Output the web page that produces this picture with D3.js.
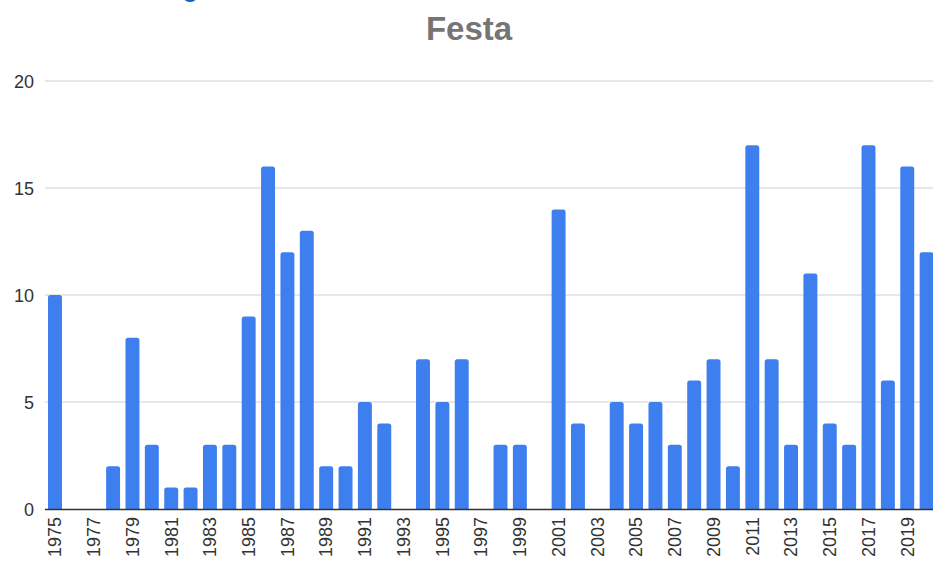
<!DOCTYPE html>
<html><head><meta charset="utf-8">
<script src="https://cdn.jsdelivr.net/npm/d3@7"></script>
<style>html,body{margin:0;padding:0;background:#fff;overflow:hidden}</style>
</head><body>
<svg id="chart" width="933" height="564"></svg>
<script>
const years = d3.range(1975, 2021).map(String);
const values = [10,0,0,2,8,3,1,1,3,3,9,16,12,13,2,2,5,4,0,7,5,7,0,3,3,0,14,4,0,5,4,5,3,6,7,2,17,7,3,11,4,3,17,6,16,12];
const yTicks = [0,5,10,15,20];
const xTickLabels = years.filter((d,i)=>i%2===0);
const title = "Festa";

const svg = d3.select("#chart");
const x = d3.scaleBand().domain(years).range([45.3, 936.3]).paddingInner(0.28).paddingOuter(0.14);
const y = d3.scaleLinear().domain([0,20]).range([509, 81]);

// cut-off heading descender (partially visible at the top edge, as in the reference)
svg.append("text").attr("x",182).attr("y",-4).attr("font-family","Roboto, Arial, sans-serif")
  .attr("font-size",30).attr("fill","#1565c0").text("g");

svg.append("text").attr("x",469).attr("y",40).attr("text-anchor","middle")
  .attr("font-family","Liberation Sans, Arial, sans-serif").attr("font-weight","bold")
  .attr("font-size",33).attr("fill","#757575").text(title);

// gridlines
svg.append("g").selectAll("line").data(yTicks.filter(d=>d>0)).join("line")
  .attr("x1",45).attr("x2",933).attr("y1",d=>y(d)).attr("y2",d=>y(d))
  .attr("stroke","#cfcfcf").attr("stroke-width",1.2);

const yAxis = svg.append("g").attr("transform","translate(38,0)")
  .call(d3.axisLeft(y).tickValues(yTicks).tickSize(0).tickPadding(4));
yAxis.select(".domain").remove();
yAxis.selectAll("text").attr("font-family","Liberation Sans, Arial, sans-serif")
  .attr("font-size",18).attr("fill","#333").attr("dy","0.35em");

// bars
const bw = x.bandwidth();
svg.append("g").selectAll("path").data(years.map((d,i)=>({year:d,value:values[i]})).filter(d=>d.value>0)).join("path")
  .attr("fill","#3d7fef")
  .attr("d", d => {
    const x0 = x(d.year), y0 = y(d.value), y1 = y(0), r = 2.5;
    return `M${x0},${y1}V${y0+r}Q${x0},${y0} ${x0+r},${y0}H${x0+bw-r}Q${x0+bw},${y0} ${x0+bw},${y0+r}V${y1}Z`;
  });

// baseline
svg.append("line").attr("x1",45).attr("x2",933).attr("y1",y(0)+0.5).attr("y2",y(0)+0.5)
  .attr("stroke","#333").attr("stroke-width",1.5);

const xAxis = svg.append("g").attr("transform",`translate(0,${y(0)})`)
  .call(d3.axisBottom(x).tickValues(xTickLabels).tickSize(0));
xAxis.select(".domain").remove();
xAxis.selectAll("text")
  .attr("transform","rotate(-90)")
  .attr("text-anchor","end")
  .attr("x",-8).attr("y",0).attr("dy","0.35em")
  .attr("font-family","Liberation Sans, Arial, sans-serif")
  .attr("font-size",18).attr("fill","#333");
</script>
</body></html>
